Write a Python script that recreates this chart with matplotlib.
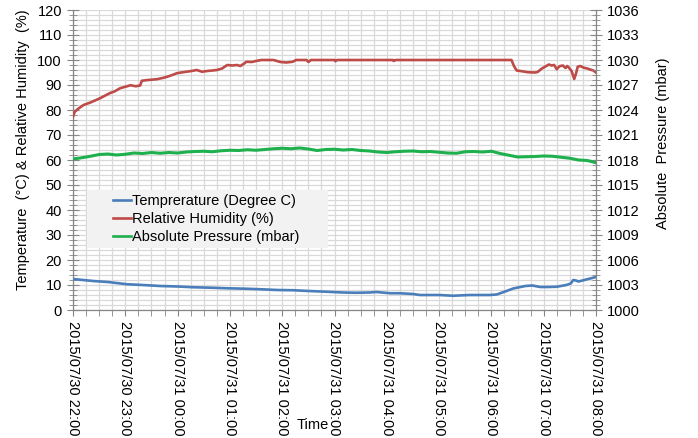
import matplotlib
matplotlib.use("Agg")
import matplotlib.pyplot as plt
import matplotlib.dates as mdates
from matplotlib.ticker import MultipleLocator, FixedLocator
import numpy as np
import pandas as pd

plt.rcParams['font.family'] = ['Liberation Sans', 'DejaVu Sans']

start_time = "2015-07-30 22:00"
end_time = "2015-07-31 08:00"

# Temperature (Degree C)
temp_min = [0, 23, 40, 62, 80, 100, 120, 138, 160, 176, 200, 215, 235, 253, 270, 291,
            310, 325, 340, 348, 364, 375, 390, 398, 420, 436, 455, 478, 486, 495, 505,
            519, 527, 536, 545, 555, 566, 571, 574, 577, 580, 590, 600]
temp_val = [12.4, 11.6, 11.2, 10.3, 10.0, 9.6, 9.4, 9.1, 8.9, 8.7, 8.5, 8.3, 8.0, 7.9, 7.6, 7.3,
            7.0, 6.9, 7.0, 7.2, 6.7, 6.7, 6.4, 6.0, 6.0, 5.7, 6.0, 6.0, 6.2, 7.3, 8.6,
            9.6, 9.8, 9.2, 9.2, 9.3, 10.0, 10.6, 12.0, 11.8, 11.4, 12.3, 13.2]

# Relative Humidity (%)
rh_min = [0, 2, 6, 12, 20, 31, 42, 48, 54, 60, 66, 72, 77, 79, 86, 96, 104, 108, 114, 119,
          124, 130, 136, 142, 148, 154, 160, 165, 171, 177, 183, 188, 192, 196, 199, 205,
          210, 216, 230, 238, 245, 252, 256, 268, 270, 273, 300, 301, 303, 367, 368, 370,
          503, 506, 509, 515, 522, 530, 533, 538, 543, 546, 549, 552, 555, 558, 562, 565,
          567, 569, 572, 575, 577, 579, 582, 586, 590, 594, 597, 600]
rh_val = [77.3, 79.3, 80.5, 82.0, 83.0, 84.7, 86.7, 87.5, 88.7, 89.3, 89.9, 89.5, 89.8, 91.7,
          92.0, 92.3, 92.9, 93.3, 94.0, 94.7, 95.0, 95.3, 95.6, 96.0, 95.3, 95.6, 95.8, 96.0,
          96.6, 98.0, 97.8, 98.0, 97.6, 98.5, 99.3, 99.2, 99.6, 100, 100, 99.2, 99.0, 99.3,
          100, 100, 99.2, 100, 100, 99.5, 100, 100, 99.6, 100,
          100, 97.5, 95.8, 95.5, 95.1, 95.0, 95.2, 96.6, 97.6, 98.2, 97.8, 98.0, 96.3, 97.5,
          97.8, 96.8, 97.6, 96.9, 95.6, 92.4, 94.5, 97.3, 97.6, 96.9, 96.6, 96.1, 95.8, 95.0]

# Absolute Pressure (mbar)
pres_min = list(range(0, 601, 10))
pres_val = [1018.12, 1018.27, 1018.45, 1018.66, 1018.72, 1018.60, 1018.69, 1018.84, 1018.78,
            1018.90, 1018.81, 1018.90, 1018.84, 1018.96, 1019.02, 1019.05, 1018.99, 1019.11,
            1019.17, 1019.14, 1019.23, 1019.17, 1019.26, 1019.35, 1019.41, 1019.35, 1019.44,
            1019.32, 1019.14, 1019.26, 1019.29, 1019.20, 1019.26, 1019.14, 1019.08, 1018.96,
            1018.90, 1018.99, 1019.05, 1019.08, 1018.99, 1019.02, 1018.93, 1018.84, 1018.81,
            1018.99, 1019.02, 1018.96, 1019.05, 1018.78, 1018.57, 1018.36, 1018.39, 1018.42,
            1018.48, 1018.45, 1018.33, 1018.21, 1018.00, 1017.94, 1017.67]

left_ticks = list(range(0, 121, 10))
right_ticks = list(range(1000, 1037, 3))

series_labels = ["Temprerature (Degree C)", "Relative Humidity (%)", "Absolute Pressure (mbar)"]
colors = ["#4a7ebb", "#be4b48", "#1db04c"]

t0 = pd.Timestamp(start_time)
def to_time(mins):
    return t0 + pd.to_timedelta(mins, unit="min")

W, H = 698, 438
fig = plt.figure(figsize=(W / 100, H / 100), dpi=100)
ax = fig.add_axes([73 / W, 1 - 310 / H, 523 / W, 300 / H])
ax2 = ax.twinx()

grid_c = "#d9d9d9"
spine_c = "#868686"

l1, = ax.plot(to_time(temp_min), temp_val, color=colors[0], lw=1.9, label=series_labels[0], zorder=3)
l2, = ax.plot(to_time(rh_min), rh_val, color=colors[1], lw=1.9, label=series_labels[1], zorder=3)
l3, = ax2.plot(to_time(pres_min), pres_val, color=colors[2], lw=2.2, label=series_labels[2], zorder=3)

ax.set_xlim(pd.Timestamp(start_time), pd.Timestamp(end_time))
ax.set_ylim(left_ticks[0], left_ticks[-1])
ax2.set_ylim(right_ticks[0], right_ticks[-1])

ax.yaxis.set_major_locator(FixedLocator(left_ticks))
ax.yaxis.set_minor_locator(MultipleLocator(2))
ax2.yaxis.set_major_locator(FixedLocator(right_ticks))
ax2.yaxis.set_minor_locator(FixedLocator(np.linspace(1000, 1036, 61)))
ax.xaxis.set_major_locator(mdates.HourLocator())
ax.xaxis.set_minor_locator(mdates.MinuteLocator(byminute=[0, 15, 30, 45]))
ax.xaxis.set_major_formatter(mdates.DateFormatter("%Y/%m/%d %H:%M"))

ax.grid(which="both", axis="both", color=grid_c, lw=0.9)
ax.set_axisbelow(True)

for a in (ax, ax2):
    for s in a.spines.values():
        s.set_visible(False)
ax.spines["left"].set_visible(True)
ax.spines["bottom"].set_visible(True)
ax2.spines["right"].set_visible(True)
for s in (ax.spines["left"], ax.spines["bottom"], ax2.spines["right"]):
    s.set_color(spine_c)
    s.set_linewidth(0.9)

fs = 10.5
ax.tick_params(axis="y", which="major", direction="inout", length=8, color=spine_c, labelsize=fs, pad=4)
ax.tick_params(axis="y", which="minor", direction="inout", length=6, color=spine_c)
ax2.tick_params(axis="y", which="major", direction="inout", length=8, color=spine_c, labelsize=fs, pad=4)
ax2.tick_params(axis="y", which="minor", direction="inout", length=6, color=spine_c)
ax.tick_params(axis="x", which="major", direction="out", length=4, color=spine_c, labelsize=fs, pad=4)
ax.tick_params(axis="x", which="minor", direction="out", length=4, color=spine_c)
for lbl in ax.get_xticklabels():
    lbl.set_rotation(-90)
    lbl.set_ha("center")
    lbl.set_va("top")

ax.set_ylabel("Temperature  (°C) & Relative Humidity  (%)", fontsize=fs)
ax.yaxis.set_label_coords(-0.082, 0.533)
ax2.set_ylabel("Absolute  Pressure (mbar)", fontsize=fs, rotation=90)
ax2.yaxis.set_label_coords(1.115, 0.557)
ax.set_xlabel("Time", fontsize=fs)
ax.xaxis.set_label_coords(0.459, -0.36)

leg = ax2.legend(handles=[l1, l2, l3], loc="upper left",
                 bbox_to_anchor=(0.027, 0.2, 0.461, 0.2), mode="expand",
                 fontsize=fs, frameon=True, fancybox=False, borderaxespad=0,
                 borderpad=0.25, labelspacing=0.3, handlelength=2.75, handletextpad=0.05)
leg.get_frame().set_facecolor("#f2f2f2")
leg.get_frame().set_edgecolor("none")
leg.get_frame().set_alpha(1)
for ln in leg.get_lines():
    xd = list(ln.get_xdata())
    yd = list(ln.get_ydata())
    x0, x1 = xd[0], xd[-1]
    ln.set_data([x1 - (x1 - x0) * 0.45, x1], [yd[0], yd[-1]])
    ln.set_linewidth(1.9)

fig.savefig("out.png", dpi=100)
